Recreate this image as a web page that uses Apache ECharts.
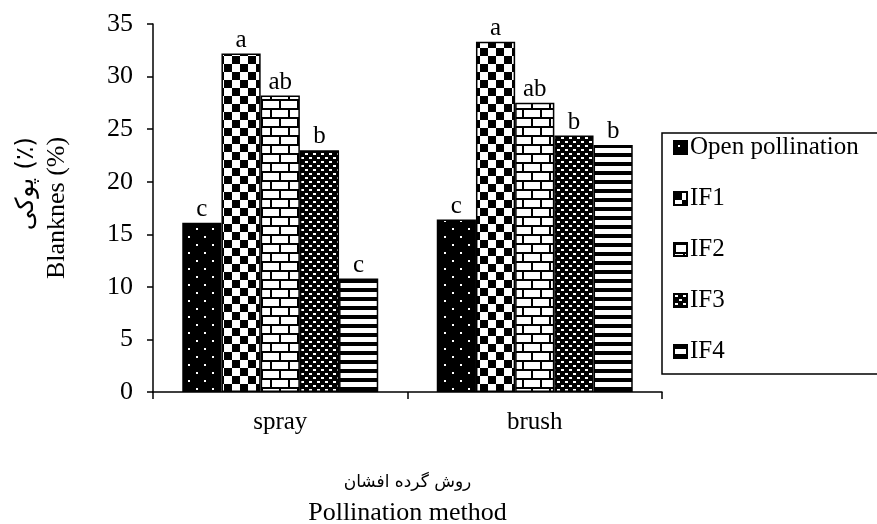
<!DOCTYPE html>
<html>
<head>
<meta charset="utf-8">
<script src="https://cdn.jsdelivr.net/npm/echarts@6/dist/echarts.min.js"></script>
<style>
  html, body { margin: 0; padding: 0; background: #fff; }
  #main { width: 877px; height: 524px; }
</style>
</head>
<body>
<div id="main"></div>
<script>
// data
var categories = ['spray', 'brush'];
var seriesNames = ['Open pollination', 'IF1', 'IF2', 'IF3', 'IF4'];
var openPollination = [16.1, 16.4];
var if1 = [32.2, 33.3];
var if2 = [28.2, 27.5];
var if3 = [23.0, 24.4];
var if4 = [10.8, 23.5];
// significance letters above each bar
var openLetters = ['c', 'c'];
var if1Letters = ['a', 'a'];
var if2Letters = ['ab', 'ab'];
var if3Letters = ['b', 'b'];
var if4Letters = ['c', 'b'];
var yMin = 0, yMax = 35, yStep = 5;

var serif = "'Liberation Serif', 'Times New Roman', serif";
var arabic = "'DejaVu Sans', sans-serif";

// small canvases used as fill patterns (black & white hatch like the original)
function makePattern(w, h, draw) {
  var c = document.createElement('canvas');
  c.width = w;
  c.height = h;
  var ctx = c.getContext('2d');
  draw(ctx);
  return { image: c, repeat: 'repeat' };
}

var patOpen = makePattern(16, 16, function (ctx) {
  ctx.fillStyle = '#000';
  ctx.fillRect(0, 0, 16, 16);
  ctx.fillStyle = '#fff';
  ctx.fillRect(4, 4, 2, 2);
  ctx.fillRect(12, 12, 2, 2);
});
var patIF1 = makePattern(16, 16, function (ctx) {
  ctx.fillStyle = '#fff';
  ctx.fillRect(0, 0, 16, 16);
  ctx.fillStyle = '#000';
  ctx.fillRect(0, 0, 8, 8);
  ctx.fillRect(8, 8, 8, 8);
});
var patIF2 = makePattern(18, 18, function (ctx) {
  ctx.fillStyle = '#fff';
  ctx.fillRect(0, 0, 18, 18);
  ctx.fillStyle = '#000';
  ctx.fillRect(0, 0, 18, 2);
  ctx.fillRect(0, 9, 18, 2);
  ctx.fillRect(0, 0, 2, 9);
  ctx.fillRect(9, 9, 2, 9);
});
var patIF3 = makePattern(8, 8, function (ctx) {
  ctx.fillStyle = '#000';
  ctx.fillRect(0, 0, 8, 8);
  ctx.fillStyle = '#fff';
  ctx.fillRect(1, 1, 3, 2);
  ctx.fillRect(5, 5, 3, 2);
});
var patIF4 = makePattern(8, 9, function (ctx) {
  ctx.fillStyle = '#fff';
  ctx.fillRect(0, 0, 8, 9);
  ctx.fillStyle = '#000';
  ctx.fillRect(0, 0, 8, 4);
});

var chart = echarts.init(document.getElementById('main'), null, { renderer: 'canvas' });

function barSeries(name, values, letters, pattern) {
  return {
    name: name,
    type: 'bar',
    data: values,
    barGap: 0,
    barCategoryGap: '23%',
    itemStyle: {
      color: pattern,
      borderColor: '#000',
      borderWidth: 1.5
    },
    label: {
      show: true,
      position: 'top',
      distance: 1,
      color: '#000',
      fontFamily: serif,
      fontSize: 25,
      formatter: function (p) { return letters[p.dataIndex]; }
    }
  };
}

var option = {
  backgroundColor: '#fff',
  animation: false,
  grid: {
    left: 153,
    right: 215,
    top: 24,
    bottom: 132,
    outerBoundsMode: 'none'
  },
  legend: {
    orient: 'vertical',
    left: 662,
    top: 133,
    icon: 'rect',
    itemWidth: 13,
    itemHeight: 13,
    itemGap: 26,
    padding: [2, 40, 10, 11],
    borderColor: '#000',
    borderWidth: 1.5,
    data: seriesNames,
    textStyle: {
      fontFamily: serif,
      fontSize: 25,
      color: '#000',
      padding: [0, 0, 0, -2]
    }
  },
  xAxis: {
    type: 'category',
    data: categories,
    name: '{fa|روش گرده افشان}\n{en|Pollination method}',
    nameLocation: 'middle',
    nameGap: 75,
    nameTextStyle: {
      color: '#000',
      rich: {
        fa: { fontFamily: arabic, fontSize: 17, lineHeight: 31, color: '#000' },
        en: { fontFamily: serif, fontSize: 26, lineHeight: 31, color: '#000' }
      }
    },
    axisLine: { lineStyle: { color: '#000', width: 1.5 } },
    axisTick: { show: true, length: 7, lineStyle: { color: '#000', width: 1.5 } },
    axisLabel: {
      color: '#000',
      fontFamily: serif,
      fontSize: 25,
      margin: 18
    }
  },
  yAxis: {
    type: 'value',
    min: yMin,
    max: yMax,
    interval: yStep,
    name: '{fa|پوکی (٪)}\n{en|Blanknes (%)}',
    nameLocation: 'middle',
    nameRotate: 90,
    nameGap: 80,
    nameTextStyle: {
      color: '#000',
      rich: {
        fa: { fontFamily: arabic, fontSize: 25, lineHeight: 31, align: 'right', color: '#000' },
        en: { fontFamily: serif, fontSize: 26, lineHeight: 31, align: 'right', color: '#000' }
      }
    },
    splitLine: { show: false },
    axisLine: { show: true, lineStyle: { color: '#000', width: 1.5 } },
    axisTick: { show: true, length: 6, lineStyle: { color: '#000', width: 1.5 } },
    axisLabel: {
      color: '#000',
      fontFamily: serif,
      fontSize: 26,
      margin: 20
    }
  },
  series: [
    barSeries(seriesNames[0], openPollination, openLetters, patOpen),
    barSeries(seriesNames[1], if1, if1Letters, patIF1),
    barSeries(seriesNames[2], if2, if2Letters, patIF2),
    barSeries(seriesNames[3], if3, if3Letters, patIF3),
    barSeries(seriesNames[4], if4, if4Letters, patIF4)
  ]
};

chart.setOption(option);
</script>
</body>
</html>
